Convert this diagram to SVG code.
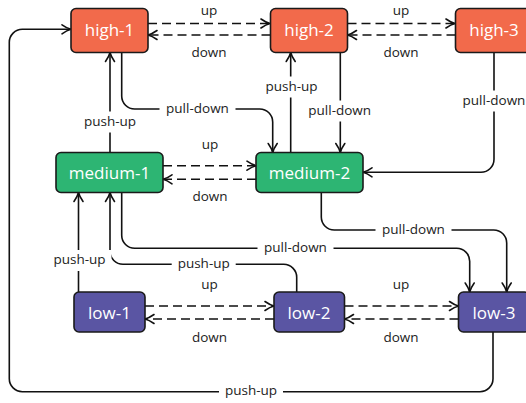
<svg xmlns="http://www.w3.org/2000/svg" width="526" height="403" viewBox="0 0 526 403">
<style>
.node rect{stroke:#1a1a1a;stroke-width:1.6}
.high rect{fill:#F26A4B}
.medium rect{fill:#2DB573}
.low rect{fill:#5A55A3}
.node text{font-family:"Open Sans","DejaVu Sans",sans-serif;font-size:17px;fill:#ffffff;text-anchor:middle}
.e{fill:none;stroke:#111;stroke-width:1.6;marker-end:url(#arr)}
.d{stroke-dasharray:9 5}
.lbg{fill:#ffffff;stroke:none}
.lbl{font-family:"Open Sans","DejaVu Sans",sans-serif;font-size:13.5px;fill:#222;text-anchor:middle}
</style>
<defs>
<marker id="arr" viewBox="-11 -6 13 12" refX="0" refY="0" markerWidth="13" markerHeight="12" markerUnits="userSpaceOnUse" orient="auto">
<path d="M-9,-4.5 Q-4,-1 0,0 Q-4,1 -9,4.5" fill="none" stroke="#111" stroke-width="1.6" stroke-dasharray="none" stroke-linecap="round" stroke-linejoin="round"/>
</marker>
</defs>
<rect width="526" height="403" fill="#ffffff"/>
<g id="connectors">
<path class="e d" d="M148,23.5 H270"/>
<path class="e d" d="M270.5,35 H148"/>
<path class="e d" d="M347.5,23.5 H455"/>
<path class="e d" d="M455.5,35 H347.5"/>
<path class="e d" d="M163,165.7 H256"/>
<path class="e d" d="M256,179.3 H163"/>
<path class="e d" d="M145,306 H274"/>
<path class="e d" d="M274,319 H145"/>
<path class="e d" d="M344.5,306 H458.5"/>
<path class="e d" d="M458.5,319 H344.5"/>
<path class="e" d="M110,152.5 V52.5"/>
<path class="e" d="M121.7,52.5 V96 A13,13 0 0 0 134.7,109 H259.7 A13,13 0 0 1 272.7,122 V152.5"/>
<path class="e" d="M290.7,152.5 V52.5"/>
<path class="e" d="M340.3,52.5 V152.5"/>
<path class="e" d="M494,52.5 V159.3 A13,13 0 0 1 481,172.3 H363"/>
<path class="e" d="M121.7,192.5 V235.3 A13,13 0 0 0 134.7,248.3 H456.7 A13,13 0 0 1 469.7,261.3 V292"/>
<path class="e" d="M321.3,192.5 V217 A13,13 0 0 0 334.3,230 H493.7 A13,13 0 0 1 506.7,243 V292"/>
<path class="e" d="M296.7,292 V277.3 A13,13 0 0 0 283.7,264.3 H123 A13,13 0 0 1 110,251.3 V192.5"/>
<path class="e" d="M78.5,292 V192.5"/>
<path class="e" d="M493,332 V378.7 A13,13 0 0 1 480,391.7 H22.3 A13,13 0 0 1 9.3,378.7 V42.3 A13,13 0 0 1 22.3,29.3 H71"/>
<rect class="lbg" x="78" y="111.5" width="64" height="21"/>
<rect class="lbg" x="159.5" y="98.5" width="76" height="21"/>
<rect class="lbg" x="259.5" y="76.5" width="64" height="21"/>
<rect class="lbg" x="301.7" y="100.5" width="76" height="21"/>
<rect class="lbg" x="456" y="90.5" width="76" height="21"/>
<rect class="lbg" x="257.5" y="238" width="76" height="21"/>
<rect class="lbg" x="375.5" y="219.5" width="76" height="21"/>
<rect class="lbg" x="171.7" y="253.5" width="64" height="21"/>
<rect class="lbg" x="47.5" y="250" width="64" height="21"/>
<rect class="lbg" x="219" y="380.5" width="64" height="21"/>
<text class="lbl" x="209" y="15">up</text>
<text class="lbl" x="209" y="57.3">down</text>
<text class="lbl" x="401" y="15">up</text>
<text class="lbl" x="401" y="57.3">down</text>
<text class="lbl" x="210" y="148.7">up</text>
<text class="lbl" x="210" y="200.8">down</text>
<text class="lbl" x="209.5" y="289.3">up</text>
<text class="lbl" x="209.5" y="341.5">down</text>
<text class="lbl" x="401" y="289.3">up</text>
<text class="lbl" x="401" y="341.5">down</text>
<text class="lbl" x="110" y="125.5">push-up</text>
<text class="lbl" x="197.5" y="112.5">pull-down</text>
<text class="lbl" x="291.5" y="90.5">push-up</text>
<text class="lbl" x="339.7" y="114.5">pull-down</text>
<text class="lbl" x="494" y="104.5">pull-down</text>
<text class="lbl" x="295.5" y="252">pull-down</text>
<text class="lbl" x="413.5" y="233.5">pull-down</text>
<text class="lbl" x="203.7" y="267.5">push-up</text>
<text class="lbl" x="79.5" y="264">push-up</text>
<text class="lbl" x="251" y="394.5">push-up</text>
</g>
<g id="high-1" class="node high"><rect x="71" y="8.5" width="77" height="44" rx="5"/><text x="109.5" y="35.5">high-1</text></g>
<g id="high-2" class="node high"><rect x="270.5" y="8.5" width="77" height="44" rx="5"/><text x="309" y="35.5">high-2</text></g>
<g id="high-3" class="node high"><rect x="455.5" y="8.5" width="77" height="44" rx="5"/><text x="494" y="35.5">high-3</text></g>
<g id="medium-1" class="node medium"><rect x="56" y="152.5" width="107" height="40" rx="5"/><text x="109.5" y="179.3">medium-1</text></g>
<g id="medium-2" class="node medium"><rect x="256" y="152.5" width="107" height="40" rx="5"/><text x="309.5" y="179.3">medium-2</text></g>
<g id="low-1" class="node low"><rect x="74" y="292" width="71" height="40" rx="5"/><text x="109.5" y="318.5">low-1</text></g>
<g id="low-2" class="node low"><rect x="274" y="292" width="70.5" height="40" rx="5"/><text x="309" y="318.5">low-2</text></g>
<g id="low-3" class="node low"><rect x="458.5" y="292" width="71" height="40" rx="5"/><text x="494" y="318.5">low-3</text></g>
</svg>
